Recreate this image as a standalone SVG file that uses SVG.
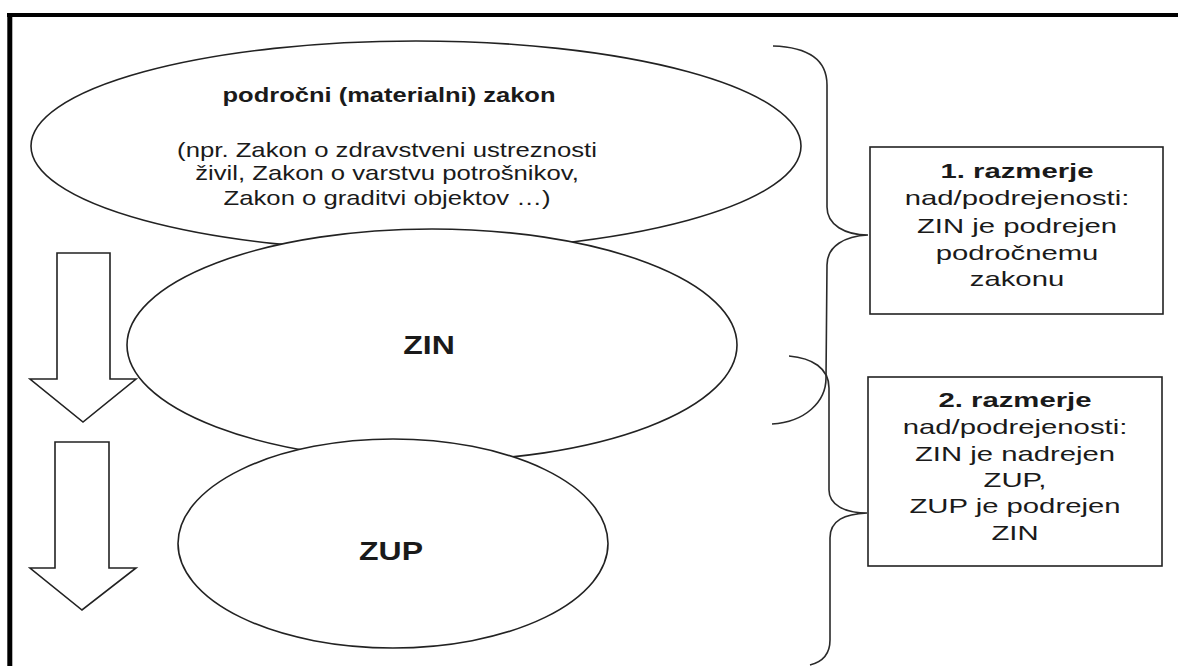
<svg xmlns="http://www.w3.org/2000/svg" width="1178" height="666" viewBox="0 0 1178 666">
<style>
.shape{fill:#fff;stroke:#222;stroke-width:1.6}
.line{fill:none;stroke:#2a2a2a;stroke-width:1.6}
.t{font-family:"Liberation Sans",Arial,sans-serif;fill:#1a1a1a;text-anchor:middle}
.b{font-weight:bold}
</style>
<rect x="0" y="0" width="1178" height="666" fill="#fff"/>
<g id="frame">
<line x1="7" y1="15" x2="1178" y2="15" stroke="#000" stroke-width="4"/>
<line x1="9.8" y1="13" x2="9.8" y2="666" stroke="#000" stroke-width="5"/>
</g>
<g id="arrows">
<path class="shape" d="M57,253 H110 V379 H136 L83,422 L30,379 H57 Z"/>
<path class="shape" d="M55,442 H109 V568 H136 L82,610 L30,568 H55 Z"/>
</g>
<g id="node-podrocni">
<ellipse class="shape" cx="416" cy="146" rx="385" ry="105"/>
<text class="t b" font-size="20.5" transform="translate(389,102) scale(1.245,1)">področni (materialni) zakon</text>
<text class="t" font-size="20" transform="translate(387,157) scale(1.285,1)"><tspan x="0" y="0">(npr. Zakon o zdravstveni ustreznosti</tspan><tspan x="0" y="23">živil, Zakon o varstvu potrošnikov,</tspan><tspan x="0" y="48">Zakon o graditvi objektov …)</tspan></text>
</g>
<g id="node-zin">
<ellipse class="shape" cx="432" cy="345" rx="305" ry="116"/>
<text class="t b" font-size="25" transform="translate(429,354) scale(1.28,1)">ZIN</text>
</g>
<g id="node-zup">
<ellipse class="shape" cx="393" cy="543.5" rx="215" ry="104.5"/>
<text class="t b" font-size="25" transform="translate(391,560) scale(1.28,1)">ZUP</text>
</g>
<g id="connectors">
<path class="line" d="M773,46 C805,47 827,58 827,85 L827,207 C827,225 845,235 868,235 C845,236 827,246 827,265 L826,378 C826,402 805,422 772,424"/>
<path class="line" d="M789,356 C812,358 829,368 829,388 L829,490 C829,505 845,513 867,513 C845,514 830,520 830,538 L830,640 C830,655 822,662 810,665"/>
</g>
<g id="node-razmerje1">
<rect class="shape" x="870" y="147" width="293" height="167"/>
<text class="t" font-size="21" transform="translate(1017,178) scale(1.395,1)"><tspan class="b" x="0" y="0">1. razmerje</tspan><tspan x="0" y="27">nad/podrejenosti:</tspan><tspan x="0" y="55">ZIN je podrejen</tspan><tspan x="0" y="82">področnemu</tspan><tspan x="0" y="108">zakonu</tspan></text>
</g>
<g id="node-razmerje2">
<rect class="shape" x="868" y="377" width="294" height="189"/>
<text class="t" font-size="21" transform="translate(1015,407) scale(1.395,1)"><tspan class="b" x="0" y="0">2. razmerje</tspan><tspan x="0" y="27">nad/podrejenosti:</tspan><tspan x="0" y="54">ZIN je nadrejen</tspan><tspan x="0" y="80">ZUP,</tspan><tspan x="0" y="106">ZUP je podrejen</tspan><tspan x="0" y="133">ZIN</tspan></text>
</g>
</svg>
